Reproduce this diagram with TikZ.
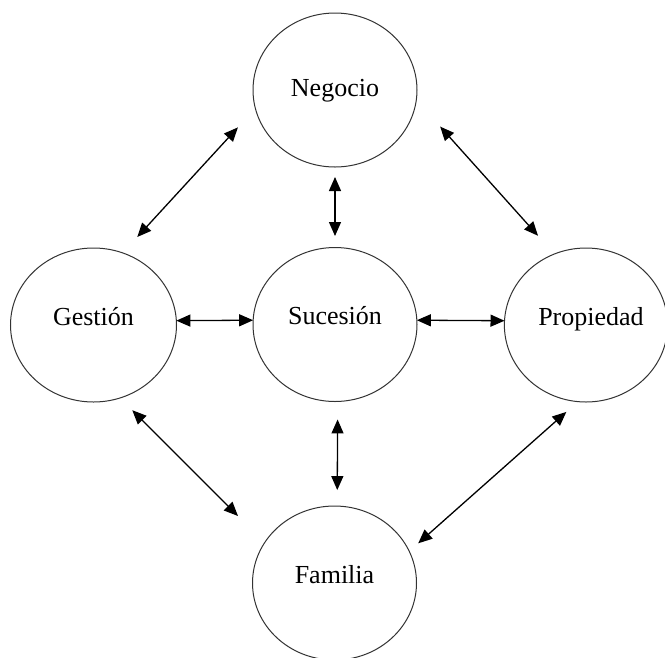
\documentclass[tikz,border=0pt]{standalone}
\usepackage{fontspec}
\setmainfont{Liberation Serif}
\usetikzlibrary{shapes.geometric,arrows.meta}
\begin{document}
\begin{tikzpicture}[x=1pt,y=-1pt,
  bubble/.style={ellipse,draw=black!80,line width=1pt,minimum width=164pt,minimum height=154pt,
    inner sep=0pt,outer sep=0pt,font=\fontsize{26}{31}\selectfont,text height=17pt,text depth=5pt},
  link/.style={line width=1.3pt,{Triangle[length=14pt 0,width=12pt 0]}-{Triangle[length=14pt 0,width=12pt 0]}}]
\fill[white] (0,0) rectangle (665,657);
\useasboundingbox (0,0) rectangle (665,657);
\node[bubble] (neg) at (335,90) {Negocio};
\node[bubble,minimum width=166pt] (ges) at (93.5,325) {\raisebox{6pt}{Gestión}};
\node[bubble] (suc) at (335,324.5) {\raisebox{6pt}{Sucesión}};
\node[bubble,minimum width=160pt] (prop) at (586,325) {\raisebox{6pt}{\hspace*{10pt}Propiedad}};
\node[bubble] (fam) at (334.5,583) {\raisebox{6pt}{Familia}};
\draw[link,shorten <=25.8pt,shorten >=21.6pt] (neg.193.5) -- (ges.68.3);
\draw[link,shorten <=10pt,shorten >=11.5pt] (neg.south) -- (suc.north);
\draw[link,shorten <=35.7pt,shorten >=24.5pt] (neg.353.6) -- (prop.114.2);
\draw[link] (ges.3) -- (suc.177);
\draw[link] (suc.3) -- (prop.177);
\draw[link,shorten <=18pt,shorten >=16pt] (suc.272) -- (fam.88);
\draw[link,shorten <=17.3pt,shorten >=37.7pt] (ges.290.6) -- (fam.150.1);
\draw[link,shorten <=15.5pt,shorten >=12pt] (prop.264.5) -- (fam.23.2);
\end{tikzpicture}
\end{document}
